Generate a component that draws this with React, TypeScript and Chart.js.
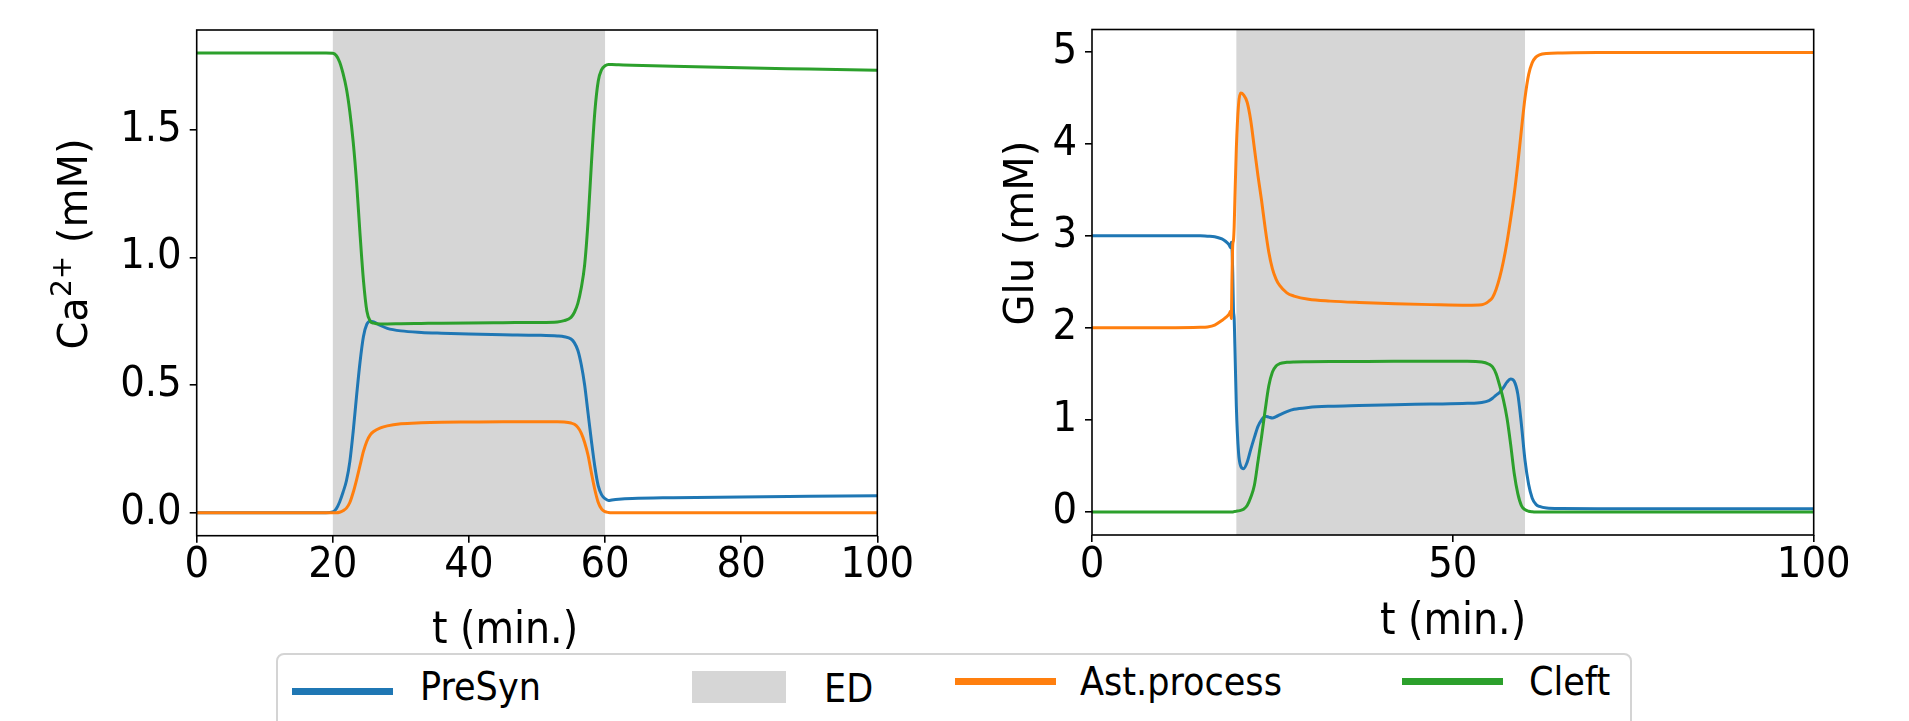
import React, { useEffect, useRef } from 'react';
import { Chart, registerables } from 'chart.js';

Chart.register(...registerables);

// ---------------- data ----------------
const seriesNames = ['PreSyn', 'Ast.process', 'Cleft'];
const seriesColors = ['#1f77b4', '#ff7f0e', '#2ca02c'];
const edLabel = 'ED';
const edColor = '#d6d6d6';
const edSpan = [20, 60];

// Left panel: Ca2+ (mM)
const leftTime = [0, 10, 19, 20, 20.5, 21, 21.5, 22, 22.5, 23, 23.5, 24, 24.5, 25, 25.5, 26, 27, 28, 30, 33, 36, 40, 45, 50, 53, 54, 55, 55.5, 56, 56.5, 57, 57.5, 58, 58.5, 59, 59.5, 60, 60.5, 61, 62, 64, 70, 80, 90, 100];
const leftPreSyn = [0, 0, 0, 0.003, 0.015, 0.042, 0.08, 0.125, 0.2, 0.32, 0.46, 0.59, 0.69, 0.738, 0.75, 0.747, 0.733, 0.722, 0.712, 0.706, 0.703, 0.7, 0.697, 0.695, 0.692, 0.689, 0.68, 0.665, 0.636, 0.58, 0.5, 0.39, 0.28, 0.18, 0.105, 0.07, 0.055, 0.048, 0.05, 0.053, 0.056, 0.059, 0.062, 0.064, 0.066];
const leftAstProcess = [0, 0, 0, 0, 0, 0.002, 0.008, 0.018, 0.04, 0.08, 0.13, 0.185, 0.24, 0.28, 0.305, 0.318, 0.332, 0.34, 0.348, 0.352, 0.354, 0.355, 0.356, 0.356, 0.356, 0.355, 0.351, 0.346, 0.334, 0.312, 0.275, 0.225, 0.155, 0.09, 0.04, 0.014, 0.004, 0.001, 0, 0, 0, 0, 0, 0, 0];
const leftCleft = [1.8, 1.8, 1.8, 1.799, 1.79, 1.765, 1.72, 1.66, 1.57, 1.45, 1.29, 1.09, 0.91, 0.79, 0.75, 0.742, 0.739, 0.739, 0.74, 0.741, 0.742, 0.743, 0.744, 0.745, 0.747, 0.752, 0.765, 0.785, 0.82, 0.88, 0.97, 1.14, 1.37, 1.57, 1.69, 1.735, 1.75, 1.755, 1.755, 1.754, 1.752, 1.748, 1.742, 1.737, 1.732];
const leftXRange = [0, 100];
const leftYRange = [-0.09, 1.89];
const leftXTicks = [0, 20, 40, 60, 80, 100];
const leftXTickLabels = ['0', '20', '40', '60', '80', '100'];
const leftYTicks = [0, 0.5, 1.0, 1.5];
const leftYTickLabels = ['0.0', '0.5', '1.0', '1.5'];

// Right panel: Glu (mM)
const rightTime = [0, 10, 15, 16, 17, 18, 18.5, 19, 19.2, 19.3, 19.4, 19.5, 19.6, 19.7, 19.8, 20, 20.3, 20.6, 21, 21.5, 22, 22.5, 23, 23.5, 24, 24.5, 25, 25.5, 26, 27, 28, 30, 33, 37, 42, 47, 52, 54, 55, 55.5, 56, 56.5, 57, 57.5, 58, 58.5, 59, 59.5, 60, 60.5, 61, 61.5, 62, 63, 65, 70, 80, 100];
const rightPreSyn = [3.0, 3.0, 3.0, 2.995, 2.99, 2.965, 2.94, 2.9, 2.87, 2.93, 2.86, 2.6, 2.2, 2.1, 1.8, 1.15, 0.65, 0.5, 0.47, 0.54, 0.68, 0.81, 0.93, 1.0, 1.04, 1.03, 1.02, 1.035, 1.055, 1.09, 1.115, 1.135, 1.148, 1.156, 1.165, 1.172, 1.18, 1.19, 1.21, 1.235, 1.27, 1.3, 1.35, 1.41, 1.445, 1.42, 1.28, 0.95, 0.56, 0.3, 0.15, 0.085, 0.06, 0.042, 0.037, 0.035, 0.035, 0.035];
const rightAstProcess = [2.0, 2.0, 2.005, 2.01, 2.03, 2.08, 2.11, 2.15, 2.18, 2.1, 2.55, 2.9, 2.95, 3.1, 3.4, 3.95, 4.42, 4.55, 4.53, 4.45, 4.25, 3.95, 3.65, 3.38, 3.08, 2.82, 2.64, 2.53, 2.46, 2.38, 2.345, 2.31, 2.29, 2.275, 2.262, 2.252, 2.245, 2.25, 2.29, 2.33, 2.42, 2.55, 2.72, 2.93, 3.18, 3.45, 3.78, 4.15, 4.5, 4.75, 4.88, 4.94, 4.965, 4.98, 4.985, 4.99, 4.99, 4.99];
const rightCleft = [0, 0, 0, 0, 0, 0, 0, 0, 0, 0, 0, 0, 0.002, 0.004, 0.005, 0.008, 0.012, 0.018, 0.03, 0.07, 0.16, 0.29, 0.55, 0.82, 1.11, 1.37, 1.52, 1.585, 1.61, 1.625, 1.63, 1.632, 1.634, 1.635, 1.636, 1.636, 1.636, 1.63, 1.605, 1.575, 1.5, 1.37, 1.22, 1.02, 0.74, 0.42, 0.2, 0.07, 0.025, 0.008, 0.002, 0, 0, 0, 0, 0, 0, 0];
const rightXRange = [0, 100];
const rightYRange = [-0.25, 5.24];
const rightXTicks = [0, 50, 100];
const rightXTickLabels = ['0', '50', '100'];
const rightYTicks = [0, 1, 2, 3, 4, 5];
const rightYTickLabels = ['0', '1', '2', '3', '4', '5'];

// ---------------- fonts ----------------
const HAS_COND = (() => {
  try {
    const c = document.createElement('canvas').getContext('2d');
    if (!c) return false;
    const s = 'mmmmmmmmmmlliiWW100';
    c.font = '40px monospace';
    const a = c.measureText(s).width;
    c.font = "40px 'DejaVu Sans Condensed', monospace";
    const b = c.measureText(s).width;
    return Math.abs(a - b) > 0.5;
  } catch (e) {
    return false;
  }
})();
const FAMILY = HAS_COND ? "'DejaVu Sans Condensed', 'DejaVu Sans', sans-serif" : "'DejaVu Sans', sans-serif";
const TICK_SIZE = HAS_COND ? 43 : 39;
const TITLE_SIZE = HAS_COND ? 44 : 40;
const LEGEND_SIZE = HAS_COND ? 39 : 35;
const YTITLE_FAMILY = "'DejaVu Sans', sans-serif";
const YTITLE_SIZE = 40;

type Part = { text: string; sup?: boolean };
interface PanelSpec {
  time: number[];
  series: number[][];
  xRange: number[];
  yRange: number[];
  xTicks: number[];
  xTickLabels: string[];
  yTicks: number[];
  yTickLabels: string[];
  canvasW: number;
  canvasH: number;
  area: { left: number; top: number; right: number; bottom: number };
  xTitle: string;
  xTitlePos: [number, number];
  yTitle: Part[];
  yTitlePos: [number, number];
}

function decorPlugin(spec: PanelSpec) {
  return {
    id: 'decor',
    beforeDatasetsDraw(chart: any) {
      const { ctx, chartArea: a, scales } = chart;
      const x0 = scales.x.getPixelForValue(edSpan[0]);
      const x1 = scales.x.getPixelForValue(edSpan[1]);
      ctx.save();
      ctx.fillStyle = edColor;
      ctx.fillRect(x0, a.top, x1 - x0, a.bottom - a.top);
      ctx.restore();
    },
    afterDatasetsDraw(chart: any) {
      const { ctx, chartArea: a } = chart;
      ctx.save();
      ctx.strokeStyle = '#000';
      ctx.lineWidth = 1.6;
      ctx.strokeRect(a.left, a.top, a.right - a.left, a.bottom - a.top);
      ctx.restore();
    },
    afterDraw(chart: any) {
      const { ctx } = chart;
      ctx.save();
      ctx.fillStyle = '#000';
      ctx.font = `${TITLE_SIZE}px ${FAMILY}`;
      ctx.textAlign = 'center';
      ctx.textBaseline = 'alphabetic';
      ctx.fillText(spec.xTitle, spec.xTitlePos[0], spec.xTitlePos[1]);
      // rotated y title
      ctx.translate(spec.yTitlePos[0], spec.yTitlePos[1]);
      ctx.rotate(-Math.PI / 2);
      ctx.textAlign = 'left';
      const fontFor = (p: Part) => `${p.sup ? 28 : YTITLE_SIZE}px ${YTITLE_FAMILY}`;
      let total = 0;
      const widths = spec.yTitle.map((p) => {
        ctx.font = fontFor(p);
        const w = ctx.measureText(p.text).width;
        total += w;
        return w;
      });
      let cx = -total / 2;
      spec.yTitle.forEach((p, i) => {
        ctx.font = fontFor(p);
        ctx.fillText(p.text, cx, p.sup ? -16 : 0);
        cx += widths[i];
      });
      ctx.restore();
    },
  };
}

function buildConfig(spec: PanelSpec): any {
  const tickFont = { family: FAMILY, size: TICK_SIZE, lineHeight: 1 };
  const grid = { drawOnChartArea: false, drawTicks: true, tickLength: 7, color: '#000', lineWidth: 1.6 };
  return {
    type: 'line',
    data: {
      datasets: spec.series.map((vals, i) => ({
        label: seriesNames[i],
        data: spec.time.map((t, j) => ({ x: t, y: vals[j] })),
        borderColor: seriesColors[i],
        backgroundColor: seriesColors[i],
        borderWidth: 3,
        pointRadius: 0,
        fill: false,
        cubicInterpolationMode: 'monotone',
        order: 3 - i,
      })),
    },
    options: {
      responsive: false,
      maintainAspectRatio: false,
      animation: false,
      devicePixelRatio: 1,
      events: [],
      layout: { padding: { left: 0, top: spec.area.top, right: spec.canvasW - spec.area.right, bottom: 0 } },
      plugins: { legend: { display: false }, tooltip: { enabled: false }, title: { display: false } },
      scales: {
        x: {
          type: 'linear',
          min: spec.xRange[0],
          max: spec.xRange[1],
          afterBuildTicks: (s: any) => {
            s.ticks = spec.xTicks.map((v) => ({ value: v }));
          },
          afterFit: (s: any) => {
            s.height = spec.canvasH - spec.area.bottom;
          },
          ticks: {
            autoSkip: false,
            maxRotation: 0,
            minRotation: 0,
            padding: 2,
            color: '#000',
            font: tickFont,
            callback: (_v: any, i: number) => spec.xTickLabels[i],
          },
          grid,
          border: { display: false },
        },
        y: {
          type: 'linear',
          min: spec.yRange[0],
          max: spec.yRange[1],
          afterBuildTicks: (s: any) => {
            s.ticks = spec.yTicks.map((v) => ({ value: v }));
          },
          afterFit: (s: any) => {
            s.width = spec.area.left;
          },
          ticks: {
            autoSkip: false,
            padding: 8,
            color: '#000',
            font: tickFont,
            callback: (_v: any, i: number) => spec.yTickLabels[i],
          },
          grid,
          border: { display: false },
        },
      },
    },
    plugins: [decorPlugin(spec)],
  };
}

const LEFT_CANVAS = { left: 0, width: 960 };
const RIGHT_CANVAS = { left: 960, width: 949 };
const H = 721;

const leftSpec: PanelSpec = {
  time: leftTime,
  series: [leftPreSyn, leftAstProcess, leftCleft],
  xRange: leftXRange,
  yRange: leftYRange,
  xTicks: leftXTicks,
  xTickLabels: leftXTickLabels,
  yTicks: leftYTicks,
  yTickLabels: leftYTickLabels,
  canvasW: LEFT_CANVAS.width,
  canvasH: H,
  area: { left: 196.7, top: 30, right: 877.3, bottom: 535.7 },
  xTitle: 't (min.)',
  xTitlePos: [505, 643],
  yTitle: [{ text: 'Ca' }, { text: '2+', sup: true }, { text: ' (mM)' }],
  yTitlePos: [86.8, 244],
};

const rightSpec: PanelSpec = {
  time: rightTime,
  series: [rightPreSyn, rightAstProcess, rightCleft],
  xRange: rightXRange,
  yRange: rightYRange,
  xTicks: rightXTicks,
  xTickLabels: rightXTickLabels,
  yTicks: rightYTicks,
  yTickLabels: rightYTickLabels,
  canvasW: RIGHT_CANVAS.width,
  canvasH: H,
  area: { left: 1092 - 960, top: 29.3, right: 1813.7 - 960, bottom: 535 },
  xTitle: 't (min.)',
  xTitlePos: [1453 - 960, 634],
  yTitle: [{ text: 'Glu (mM)' }],
  yTitlePos: [1032.8 - 960, 233],
};

function textTop(baseline: number, size: number) {
  return baseline - 0.846 * size;
}

export default function App() {
  const leftRef = useRef<HTMLCanvasElement>(null);
  const rightRef = useRef<HTMLCanvasElement>(null);

  useEffect(() => {
    document.body.style.margin = '0';
    document.body.style.overflow = 'hidden';
    const charts: Chart[] = [];
    if (leftRef.current) charts.push(new Chart(leftRef.current, buildConfig(leftSpec)));
    if (rightRef.current) charts.push(new Chart(rightRef.current, buildConfig(rightSpec)));
    return () => charts.forEach((c) => c.destroy());
  }, []);

  const textStyle = (left: number, baseline: number): React.CSSProperties => ({
    position: 'absolute',
    left,
    top: textTop(baseline, LEGEND_SIZE),
    fontFamily: FAMILY,
    fontSize: LEGEND_SIZE,
    lineHeight: `${LEGEND_SIZE}px`,
    whiteSpace: 'nowrap',
    color: '#000',
  });
  const bar = (left: number, cy: number, color: string): React.CSSProperties => ({
    position: 'absolute',
    left,
    top: cy - 3.5,
    width: 101,
    height: 7,
    background: color,
  });

  return (
    <div style={{ position: 'absolute', left: 0, top: 0, width: 1909, height: H, overflow: 'hidden', background: '#fff' }}>
      <canvas
        ref={leftRef}
        width={LEFT_CANVAS.width}
        height={H}
        style={{ position: 'absolute', left: LEFT_CANVAS.left, top: 0, width: LEFT_CANVAS.width, height: H }}
      />
      <canvas
        ref={rightRef}
        width={RIGHT_CANVAS.width}
        height={H}
        style={{ position: 'absolute', left: RIGHT_CANVAS.left, top: 0, width: RIGHT_CANVAS.width, height: H }}
      />
      <div
        style={{
          position: 'absolute',
          left: 276,
          top: 653,
          width: 1356,
          height: 120,
          border: '2px solid #d4d4d4',
          borderRadius: 8,
          boxSizing: 'border-box',
          background: '#fff',
        }}
      />
      <div style={bar(292, 691.7, seriesColors[0])} />
      <span style={textStyle(420, 700)}>{seriesNames[0]}</span>
      <div style={{ position: 'absolute', left: 692, top: 671, width: 94, height: 32, background: edColor }} />
      <span style={textStyle(824, 701.7)}>{edLabel}</span>
      <div style={bar(955, 681.7, seriesColors[1])} />
      <span style={textStyle(1080, 694.5)}>{seriesNames[1]}</span>
      <div style={bar(1402, 681.7, seriesColors[2])} />
      <span style={textStyle(1529, 694.5)}>{seriesNames[2]}</span>
    </div>
  );
}
